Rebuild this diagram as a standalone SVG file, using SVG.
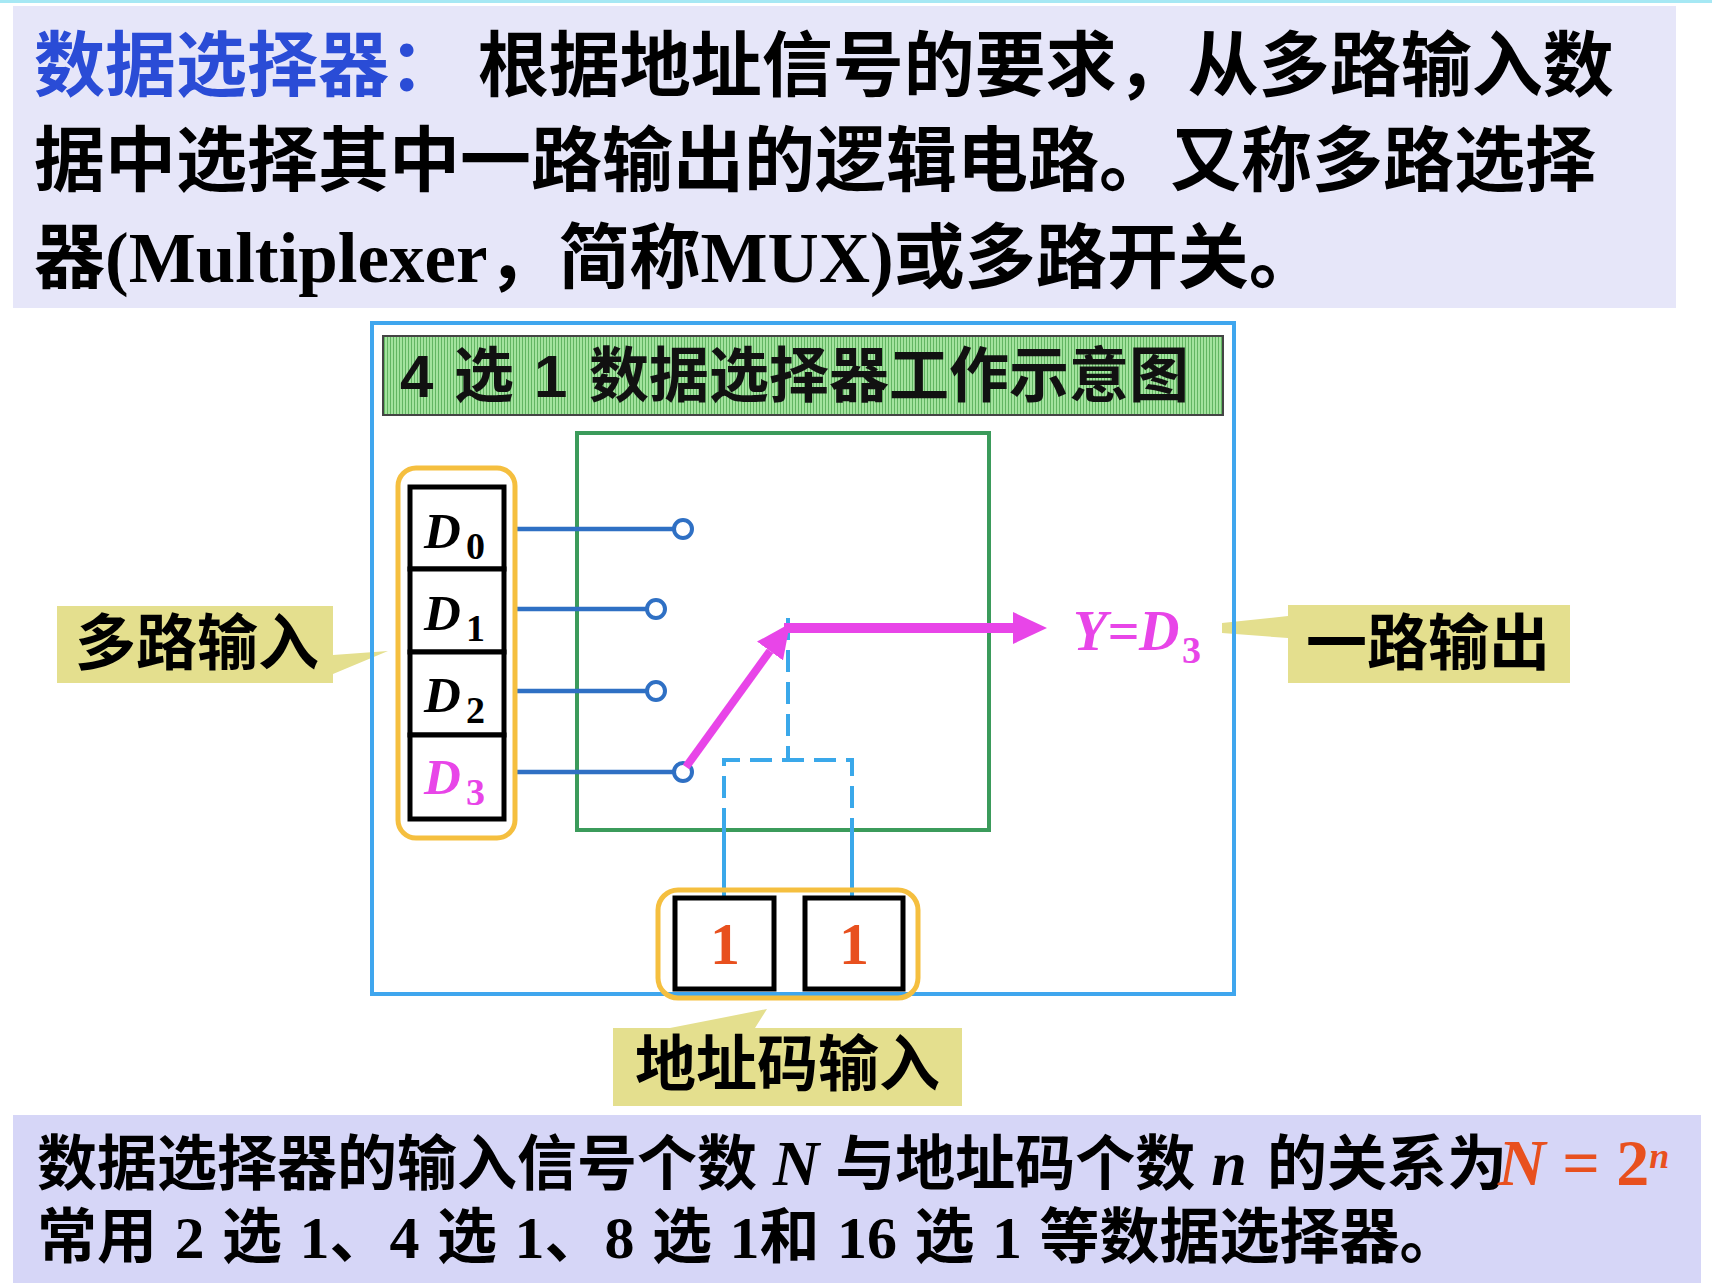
<svg xmlns="http://www.w3.org/2000/svg" width="1712" height="1286" viewBox="0 0 1712 1286">
<style>
.mix{font-family:'Liberation Serif','Noto Sans CJK SC',serif;font-weight:bold}
.cjk{font-family:'Noto Sans CJK SC',sans-serif;font-weight:bold}
.title{font-family:'Liberation Sans','Noto Sans CJK SC',sans-serif;font-weight:bold;font-size:60px;fill:#111}
.lat{font-family:'Liberation Serif',serif;font-weight:bold}
.it{font-style:italic}
.callout{fill:#e4df8e}
.call-t{font-family:'Noto Sans CJK SC',sans-serif;font-weight:bold;font-size:61px;fill:#000}
.cell{fill:#fff;stroke:#000;stroke-width:5}
.wire{stroke:#2f70c4;stroke-width:4.5;fill:none}
.pin{fill:#fff;stroke:#2f70c4;stroke-width:4}
.dash{stroke:#3aa8ea;stroke-width:4;fill:none;stroke-dasharray:22 10}
.sel{stroke:#3aa8ea;stroke-width:4;fill:none}
.mag{stroke:#e845e8;fill:none}
.dlab{font-family:'Liberation Serif',serif;font-weight:bold;font-style:italic;font-size:51px}
.dsub{font-family:'Liberation Serif',serif;font-weight:bold;font-size:38px}
.one{font-family:'Liberation Serif',serif;font-weight:bold;font-size:60px;fill:#e8501e}
</style>
<defs>
<pattern id="stripes" width="3" height="10" patternUnits="userSpaceOnUse">
<rect width="3" height="10" fill="#a3e39e"/>
<rect width="1" height="10" fill="#62b562"/>
</pattern>
<marker id="ah" viewBox="0 0 34 32" refX="0" refY="16" markerWidth="34" markerHeight="32" markerUnits="userSpaceOnUse" orient="auto">
<path d="M0,0 L34,16 L0,32 Z" fill="#e845e8"/>
</marker>
</defs>
<rect width="1712" height="1286" fill="#fff"/>
<rect x="0" y="0" width="1712" height="3" fill="#a6e8f4"/>

<g id="top-banner">
<rect x="13" y="6" width="1663" height="302" fill="#e6e6f9"/>
<text class="mix" font-size="71" x="34" y="90"><tspan fill="#2a4cd6">数据选择器：</tspan><tspan fill="#000"> 根据地址信号的要求，从多路输入数</tspan></text>
<text class="mix" font-size="71" x="34" y="185" fill="#000">据中选择其中一路输出的逻辑电路。又称多路选择</text>
<text class="mix" font-size="71" x="34" y="282" fill="#000">器(Multiplexer，简称MUX)或多路开关。</text>
</g>

<g id="callout-input">
<path class="callout" d="M57,606 H333 V655 L388,651 L333,674 V683 H57 Z"/>
<text class="call-t" x="75" y="665">多路输入</text>
</g>
<g id="callout-output">
<path class="callout" d="M1288,605 H1570 V683 H1288 V638 L1222,633 L1222,623 L1288,616 Z"/>
<text class="call-t" x="1306" y="665">一路输出</text>
</g>

<g id="frame">
<rect x="372" y="323" width="862" height="671" fill="none" stroke="#3fa6ee" stroke-width="4"/>
</g>

<g id="title-bar">
<rect x="383" y="336" width="840" height="79" fill="url(#stripes)" stroke="#444" stroke-width="2"/>
<text class="title" y="397"><tspan x="400">4</tspan><tspan x="454">选</tspan><tspan x="534">1</tspan><tspan x="589">数据选择器工作示意图</tspan></text>
</g>

<g id="mux-box">
<rect x="577" y="433" width="412" height="397" fill="none" stroke="#3b9b5b" stroke-width="4"/>
</g>

<g id="connectors">
<line class="wire" x1="504" y1="529" x2="674" y2="529"/>
<line class="wire" x1="504" y1="609" x2="647" y2="609"/>
<line class="wire" x1="504" y1="691" x2="647" y2="691"/>
<line class="wire" x1="504" y1="772" x2="674" y2="772"/>
<path class="dash" d="M788,618 V760"/>
<path class="dash" d="M724,830 V760 H852 V830"/>
<path class="sel" d="M724,830 V897 M852,830 V897"/>
<circle class="pin" cx="683" cy="529" r="9"/>
<circle class="pin" cx="656" cy="609" r="9"/>
<circle class="pin" cx="656" cy="691" r="9"/>
<circle class="pin" cx="683" cy="772" r="9"/>
<line class="mag" stroke-width="8" x1="686" y1="767" x2="770" y2="651" marker-end="url(#ah)"/>
<line class="mag" stroke-width="10" x1="784" y1="628" x2="1013" y2="628" marker-end="url(#ah)"/>
</g>

<g id="data-inputs">
<rect x="398" y="468" width="117" height="370" rx="18" fill="#fff" stroke="#f5bf3f" stroke-width="5"/>
<rect class="cell" x="410" y="487" width="94" height="82"/>
<rect class="cell" x="410" y="569" width="94" height="83"/>
<rect class="cell" x="410" y="652" width="94" height="83"/>
<rect class="cell" x="410" y="735" width="94" height="84"/>
<text class="dlab" x="424" y="548" fill="#000">D</text><text class="dsub" x="466" y="559" fill="#000">0</text>
<text class="dlab" x="424" y="630" fill="#000">D</text><text class="dsub" x="466" y="641" fill="#000">1</text>
<text class="dlab" x="424" y="712" fill="#000">D</text><text class="dsub" x="466" y="723" fill="#000">2</text>
<text class="dlab" x="424" y="794" fill="#e845e8">D</text><text class="dsub" x="466" y="805" fill="#e845e8">3</text>
</g>

<g id="output-label">
<text class="lat it" font-size="56" x="1073" y="650" fill="#e845e8">Y=D</text>
<text class="dsub" x="1182" y="663" fill="#e845e8">3</text>
</g>

<g id="address-inputs">
<rect class="cell" x="675" y="898" width="99" height="91"/>
<rect class="cell" x="805" y="898" width="98" height="91"/>
<rect x="658" y="890" width="260" height="108" rx="20" fill="none" stroke="#f5bf3f" stroke-width="5"/>
<text class="one" x="725" y="964" text-anchor="middle">1</text>
<text class="one" x="854" y="964" text-anchor="middle">1</text>
</g>

<g id="callout-address">
<path class="callout" d="M613,1028 H670 L767,1009 L755,1028 H962 V1106 H613 Z"/>
<text class="call-t" x="635" y="1086">地址码输入</text>
</g>

<g id="bottom-banner">
<rect x="13" y="1115" width="1688" height="168" fill="#d6d6f7"/>
<text class="mix" font-size="60" x="37" y="1185" fill="#000">数据选择器的输入信号个数<tspan font-size="64"> <tspan class="it">N</tspan> </tspan>与地址码个数<tspan font-size="64"> <tspan class="it">n</tspan> </tspan><tspan x="1267">的关系为</tspan><tspan x="1498" fill="#e8501e" font-size="66" class="it">N</tspan><tspan fill="#e8501e" font-size="66"> = 2</tspan><tspan fill="#e8501e" font-size="36" class="it" dy="-17">n</tspan></text>
<text class="mix" font-size="60" x="37" y="1258" fill="#000" word-spacing="2.5">常用 2 选 1、4 选 1、8 选 1和 16 选 1 等数据选择器。</text>
</g>
</svg>
